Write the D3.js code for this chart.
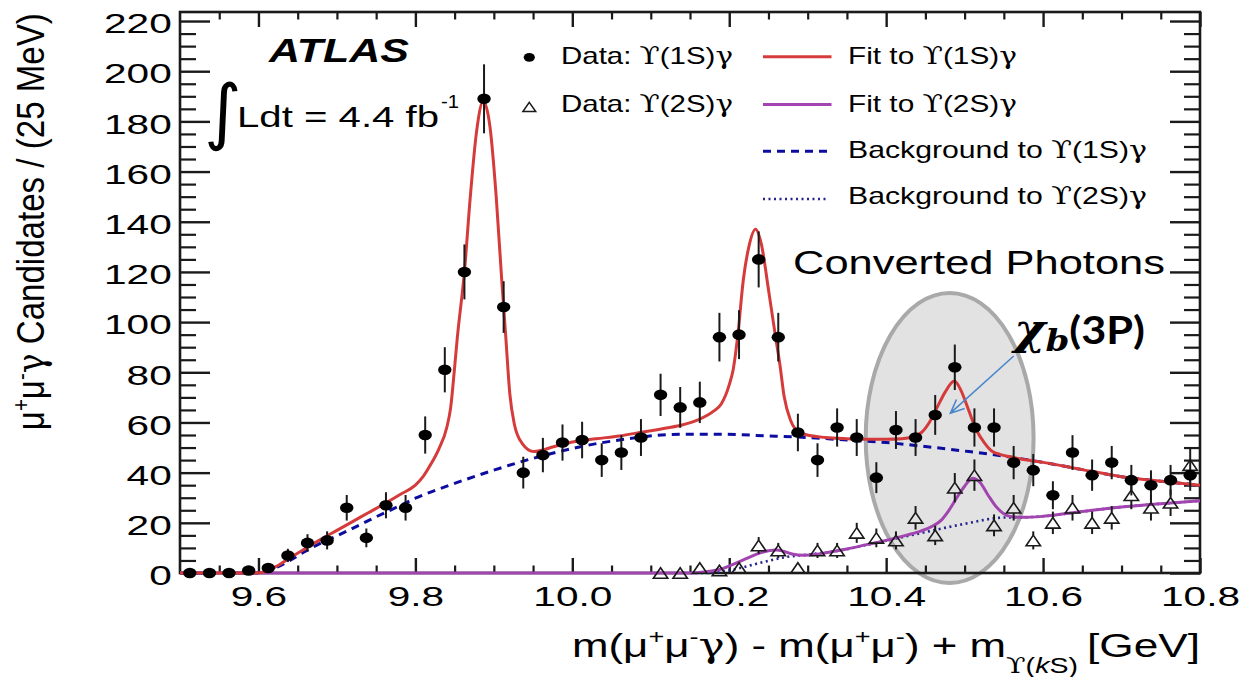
<!DOCTYPE html>
<html><head><meta charset="utf-8">
<script src="https://cdn.jsdelivr.net/npm/d3@7"></script>
<style>
html,body{margin:0;padding:0;background:#fff;}
svg{display:block;}
text{font-family:"Liberation Sans",Arial,Helvetica,sans-serif;fill:#000;}
</style></head><body>
<svg id="chart" width="1243" height="677"></svg>
<script>
// ---------- data ----------
const bins1S = [9.5125,9.5375,9.5625,9.5875,9.6125,9.6375,9.6625,9.6875,9.7125,9.7375,9.7625,9.7875,
  9.8125,9.8375,9.8625,9.8875,9.9125,9.9375,9.9625,9.9875,10.0125,10.0375,10.0625,10.0875,10.1125,10.1375,
  10.1625,10.1875,10.2125,10.2375,10.2625,10.2875,10.3125,10.3375,10.3625,10.3875,10.4125,10.4375,10.4625,
  10.4875,10.5125,10.5375,10.5625,10.5875,10.6125,10.6375,10.6625,10.6875,10.7125,10.7375,10.7625,10.7875];
const counts1S = [0,0,0,1,2,7,12,13,26,14,27,26,
  55,81,120,189,106,40,47,52,53,45,48,54,71,66,
  68,94,95,125,94,56,45,58,54,38,57,54,63,
  82,58,58,44,41,31,48,39,44,37,35,37,39];
const bins2S = [10.1125,10.1375,10.1625,10.1875,10.2125,10.2375,10.2625,10.2875,10.3125,10.3375,10.3625,
  10.3875,10.4125,10.4375,10.4625,10.4875,10.5125,10.5375,10.5625,10.5875,10.6125,10.6375,10.6625,10.6875,
  10.7125,10.7375,10.7625,10.7875];
const counts2S = [0,0,2,1,2,11,9,2,9,9,16,14,13,22,15,34,39,19,26,13,20,26,20,22,31,26,28,43];

const fit1S = [[9.50,0],[9.60,0],[9.605,0.3],[9.615,1.5],[9.625,3],[9.64,6],[9.66,9.8],[9.68,13.5],[9.70,17],
  [9.72,20.5],[9.74,24],[9.76,27.5],[9.78,31.2],[9.80,35],[9.81,38.5],[9.82,43.5],[9.83,49.5],[9.84,58],
  [9.845,66],[9.85,82],[9.8535,94],[9.8625,120],[9.87,150],[9.878,176],[9.8865,188],[9.895,178],[9.903,150],
  [9.91,117],[9.915,95],[9.9205,71],[9.926,59.5],[9.936,51.7],[9.951,48.4],[9.976,50.3],[10.0,52.2],
  [10.03,53.5],[10.06,54.6],[10.09,56.2],[10.12,57.8],[10.14,59],[10.16,61],[10.18,64.5],[10.19,67.5],
  [10.2,75],[10.205,81],[10.211,95],[10.218,117],[10.225,130],[10.2335,137],[10.241,131],[10.25,113],
  [10.2586,95],[10.2646,83],[10.27,70.3],[10.278,61],[10.291,55.7],[10.3225,54],[10.35,53.5],[10.375,53.3],
  [10.40,53.3],[10.42,53.5],[10.435,54.5],[10.445,56],[10.455,60],[10.465,66],[10.475,72],[10.487,76.5],
  [10.495,73],[10.505,65],[10.515,57],[10.525,52],[10.535,48.5],[10.545,47.3],[10.555,46.5],[10.57,45.5],
  [10.60,44.1],[10.65,41.2],[10.70,38.4],[10.75,36.6],[10.80,35]];
const bkg1S = [[9.50,0],[9.60,0],[9.605,0.2],[9.62,1.8],[9.64,5],[9.66,8.7],[9.68,12],[9.70,14.8],[9.72,17.8],
  [9.75,22.4],[9.78,26.8],[9.80,29.8],[9.85,35.7],[9.90,41],[9.95,45.7],[10.0,49.6],[10.035,51.8],[10.06,53],
  [10.09,54.3],[10.14,55.3],[10.19,55.3],[10.245,54.7],[10.30,54],[10.35,53],[10.40,52],[10.45,50.4],
  [10.50,48.6],[10.55,46.6],[10.60,44.1],[10.65,41.2],[10.70,38.4],[10.75,36.6],[10.80,35]];
const fit2S = [[9.50,0],[10.15,0],[10.17,0.5],[10.19,1.6],[10.205,3.4],[10.22,5.5],[10.235,7.5],[10.25,8.9],
  [10.26,9.2],[10.27,8.6],[10.28,7.6],[10.295,7.1],[10.31,7.4],[10.325,8.2],[10.35,9.6],[10.375,11.3],
  [10.40,13],[10.425,15],[10.445,16.8],[10.46,18.8],[10.47,21],[10.48,25],[10.49,30],[10.50,34.6],
  [10.51,37.8],[10.52,36],[10.53,31],[10.54,26.5],[10.55,23.6],[10.56,22.4],[10.575,22.2],[10.60,22.6],
  [10.65,24.5],[10.70,26.3],[10.75,27.6],[10.80,28.8]];
const bkg2S = [[10.15,0],[10.17,0],[10.19,0.6],[10.21,1.7],[10.245,4.5],[10.275,6.5],[10.30,7.3],[10.325,8.3],
  [10.35,9.5],[10.375,11.2],[10.40,12.9],[10.45,16.3],[10.50,19.6],[10.55,22.1],[10.575,22.2],[10.60,22.6],
  [10.65,24.5],[10.70,26.3],[10.75,27.6],[10.80,28.8]];

const xMajorTicks = [9.6,9.8,10.0,10.2,10.4,10.6,10.8];
const xMinorTicks = [9.55,9.65,9.7,9.75,9.85,9.9,9.95,10.05,10.1,10.15,10.25,10.3,10.35,10.45,10.5,10.55,10.65,10.7,10.75];
const yMajorTicks = [0,20,40,60,80,100,120,140,160,180,200,220];
const yMinorTicks = [5,10,15,25,30,35,45,50,55,65,70,75,85,90,95,105,110,115,125,130,135,145,150,155,165,170,175,185,190,195,205,210,215];

// annotation (data units)
const highlight = {cx: 10.4809, cy: 53.8, rx: 0.107, ry: 57.8};
const arrowFrom = [10.5626, 86.5];
const arrowTo = [10.4819, 63.7];

// ---------- drawing ----------
const svg = d3.select("#chart");
const x = d3.scaleLinear().domain([9.5, 10.8]).range([180, 1200]);
const y = d3.scaleLinear().domain([0, 223.6]).range([573, 12]);
const ink = "#1a1a1a";
const SYM = "DejaVu Serif";

svg.append("ellipse")
  .attr("cx", x(highlight.cx)).attr("cy", y(highlight.cy))
  .attr("rx", x(highlight.cx + highlight.rx) - x(highlight.cx))
  .attr("ry", y(highlight.cy) - y(highlight.cy + highlight.ry))
  .attr("fill", "#e2e2e2").attr("stroke", "#a9a9a9").attr("stroke-width", 4);

function styleTicks(g, w) {
  g.select(".domain").remove();
  g.selectAll(".tick line").attr("stroke", ink).attr("stroke-width", w);
}
const yl = svg.append("g").attr("transform", "translate(180,0)")
  .call(d3.axisLeft(y).tickValues(yMajorTicks).tickSize(-30).tickPadding(5.7).tickFormat(d3.format("d")));
styleTicks(yl, 2.4);
yl.selectAll(".tick text").style("font-size", "28px").style("font-family", "Liberation Sans, Arial, sans-serif")
  .attr("fill", "#000").attr("dy", "0.42em").attr("transform", "scale(1.45,1)");
svg.append("g").attr("transform", "translate(180,0)")
  .call(d3.axisLeft(y).tickValues(yMinorTicks).tickSize(-16).tickFormat(""))
  .call(g => styleTicks(g, 2.2));
svg.append("g").attr("transform", "translate(1200,0)")
  .call(d3.axisRight(y).tickValues(yMajorTicks).tickSize(-30).tickFormat(""))
  .call(g => styleTicks(g, 2.4));
svg.append("g").attr("transform", "translate(1200,0)")
  .call(d3.axisRight(y).tickValues(yMinorTicks).tickSize(-16).tickFormat(""))
  .call(g => styleTicks(g, 2.2));

const xb = svg.append("g").attr("transform", "translate(0,573)")
  .call(d3.axisBottom(x).tickValues(xMajorTicks).tickSize(-15).tickPadding(13).tickFormat(d3.format(".1f")));
styleTicks(xb, 2.4);
xb.selectAll(".tick text").style("font-size", "28px").style("font-family", "Liberation Sans, Arial, sans-serif")
  .attr("fill", "#000").attr("transform", "scale(1.45,1)");
svg.append("g").attr("transform", "translate(0,573)")
  .call(d3.axisBottom(x).tickValues(xMinorTicks).tickSize(-7.5).tickFormat(""))
  .call(g => styleTicks(g, 2.2));
svg.append("g").attr("transform", "translate(0,12)")
  .call(d3.axisTop(x).tickValues(xMajorTicks).tickSize(-15).tickFormat(""))
  .call(g => styleTicks(g, 2.4));
svg.append("g").attr("transform", "translate(0,12)")
  .call(d3.axisTop(x).tickValues(xMinorTicks).tickSize(-7.5).tickFormat(""))
  .call(g => styleTicks(g, 2.2));

svg.append("rect").attr("x", x(9.5)).attr("y", y(223.6))
  .attr("width", x(10.8) - x(9.5)).attr("height", y(0) - y(223.6))
  .attr("fill", "none").attr("stroke", ink).attr("stroke-width", 2.6);

const line = d3.line().x(d => x(d[0])).y(d => y(d[1])).curve(d3.curveMonotoneX);
svg.append("path").attr("d", line(bkg1S)).attr("fill", "none").attr("stroke", "#0c0ca0")
  .attr("stroke-width", 3).attr("stroke-dasharray", "8,6");
svg.append("path").attr("d", line(bkg2S)).attr("fill", "none").attr("stroke", "#23238c")
  .attr("stroke-width", 2.6).attr("stroke-dasharray", "2,3.5");
svg.append("path").attr("d", line(fit2S)).attr("fill", "none").attr("stroke", "#a245b0").attr("stroke-width", 3);
svg.append("path").attr("d", line(fit1S)).attr("fill", "none").attr("stroke", "#d63b3b").attr("stroke-width", 3);

const triH = 5.3, triW = 7.2;
const d2 = d3.zip(bins2S, counts2S);
const g2 = svg.append("g");
d2.forEach(([b, c]) => {
  const cx = x(b), cy = y(c), e = Math.sqrt(c);
  if (c > 0) {
    if (y(c + e) < cy - triH) g2.append("line").attr("x1", cx).attr("x2", cx).attr("y1", y(c + e)).attr("y2", cy - triH)
      .attr("stroke", ink).attr("stroke-width", 2);
    if (y(c - e) > cy + triH) g2.append("line").attr("x1", cx).attr("x2", cx).attr("y1", cy + triH).attr("y2", y(c - e))
      .attr("stroke", ink).attr("stroke-width", 2);
  }
  g2.append("path").attr("d", `M${cx},${cy - triH}L${cx + triW},${cy + triH}L${cx - triW},${cy + triH}Z`)
    .attr("fill", "none").attr("stroke", ink).attr("stroke-width", 1.6);
});

const d1 = d3.zip(bins1S, counts1S);
const g1 = svg.append("g");
g1.selectAll("line").data(d1.filter(d => d[1] > 0)).join("line")
  .attr("x1", d => x(d[0])).attr("x2", d => x(d[0]))
  .attr("y1", d => y(d[1] + Math.sqrt(d[1]))).attr("y2", d => y(d[1] - Math.sqrt(d[1])))
  .attr("stroke", ink).attr("stroke-width", 2);
g1.selectAll("ellipse").data(d1).join("ellipse")
  .attr("cx", d => x(d[0])).attr("cy", d => y(d[1])).attr("rx", 6.7).attr("ry", 5.3).attr("fill", "#000");

const ax0 = x(arrowFrom[0]), ay0 = y(arrowFrom[1]), ax1 = x(arrowTo[0]), ay1 = y(arrowTo[1]);
const ang = Math.atan2(ay0 - ay1, ax0 - ax1);
const hl = 15, ha = 0.42;
svg.append("path")
  .attr("d", `M${ax0},${ay0}L${ax1},${ay1}M${ax1 + hl * Math.cos(ang + ha)},${ay1 + hl * Math.sin(ang + ha)}L${ax1},${ay1}L${ax1 + hl * Math.cos(ang - ha)},${ay1 + hl * Math.sin(ang - ha)}`)
  .attr("fill", "none").attr("stroke", "#4a86cc").attr("stroke-width", 1.6);

// ---------- text helpers ----------
function rich(sel, parts, base) {
  parts.forEach(p => {
    const t = sel.append("tspan").text(p.t);
    if (p.sup) t.attr("font-size", base * 0.62).attr("dy", -base * 0.38);
    if (p.back) t.attr("dy", base * 0.38);
    if (p.it) t.attr("font-style", "italic");
    if (p.f) t.style("font-family", p.f);
  });
}
function label(xp, yp, fs, len, parts, extra) {
  const t = svg.append("text").attr("x", xp).attr("y", yp).attr("font-size", fs);
  if (len) t.attr("textLength", len).attr("lengthAdjust", "spacingAndGlyphs");
  if (typeof parts === "string") t.text(parts); else rich(t, parts, fs);
  if (extra) extra(t);
  return t;
}
function ups(pre, state) {
  return [{t: pre}, {t: "ϒ", f: SYM}, {t: "(" + state + ")"}, {t: "γ", f: SYM}];
}

const yt = svg.append("text").attr("transform", "translate(43.5,221.7) scale(1.19,1) rotate(-90)")
  .attr("text-anchor", "middle").attr("font-size", 33).attr("textLength", 417).attr("lengthAdjust", "spacingAndGlyphs");
rich(yt, [{t: "μ"}, {t: "+", sup: true}, {t: "μ", back: true}, {t: "-", sup: true}, {t: "γ", back: true, f: SYM}, {t: " Candidates / (25 MeV)"}], 33);

label(572, 656.5, 33, 434, [{t: "m(μ"}, {t: "+", sup: true}, {t: "μ", back: true}, {t: "-", sup: true},
  {t: "γ", back: true, f: SYM}, {t: ") - m(μ"}, {t: "+", sup: true}, {t: "μ", back: true}, {t: "-", sup: true}, {t: ") + m", back: true}]);
label(1006, 673, 22, 72, [{t: "ϒ", f: SYM}, {t: "("}, {t: "k", it: true}, {t: "S)"}]);
label(1087, 656.5, 33, 113, "[GeV]");

label(269, 61.7, 33, 140, "ATLAS", t => t.attr("font-weight", "bold").attr("font-style", "italic"));
svg.append("text").attr("x", 204).attr("y", 136).attr("font-size", 72)
  .style("font-family", "DejaVu Sans").text("∫");
label(237, 126.7, 30, 202, "Ldt = 4.4 fb");
label(441, 108, 18, 18, "-1");

label(793, 274, 33, 372, "Converted Photons");

const chi = svg.append("text").attr("x", 1014).attr("y", 344).attr("font-size", 42).attr("font-weight", "bold")
  .attr("textLength", 131).attr("lengthAdjust", "spacingAndGlyphs");
chi.append("tspan").text("χ").attr("font-style", "italic").style("font-family", "DejaVu Serif");
chi.append("tspan").text("b").attr("font-style", "italic").attr("font-size", 30).attr("dy", 7).style("font-family", "DejaVu Serif");
chi.append("tspan").text("(3P)").attr("dy", -7).attr("font-size", 38).style("font-family", "Lato, Open Sans, sans-serif");

const legendMarkers = [{y: 57.3, type: "dot", state: "1S", ty: 64},
                       {y: 107, type: "tri", state: "2S", ty: 111.7}];
legendMarkers.forEach(m => {
  if (m.type === "dot") svg.append("ellipse").attr("cx", 529.3).attr("cy", m.y).attr("rx", 5.6).attr("ry", 4.4).attr("fill", "#000");
  else svg.append("path").attr("d", `M529.3,${m.y - 4.6}L${529.3 + 6.4},${m.y + 4.6}L${529.3 - 6.4},${m.y + 4.6}Z`)
    .attr("fill", "none").attr("stroke", ink).attr("stroke-width", 1.5);
  label(561, m.ty, 24, 172, ups("Data: ", m.state));
});
const legendLines = [
  {y: 56.7, color: "#d63b3b", w: 3, dash: null, pre: "Fit to ", state: "1S", ty: 64, len: 169},
  {y: 104.5, color: "#a245b0", w: 3, dash: null, pre: "Fit to ", state: "2S", ty: 111.7, len: 169},
  {y: 151.3, color: "#0c0ca0", w: 3, dash: "8,6", pre: "Background to ", state: "1S", ty: 157.7, len: 299},
  {y: 199, color: "#23238c", w: 2.6, dash: "2,3.5", pre: "Background to ", state: "2S", ty: 204.3, len: 299}];
legendLines.forEach(l => {
  const p = svg.append("line").attr("x1", 763).attr("x2", l.dash ? 827 : 831.5).attr("y1", l.y).attr("y2", l.y)
    .attr("stroke", l.color).attr("stroke-width", l.w);
  if (l.dash) p.attr("stroke-dasharray", l.dash);
  label(848, l.ty, 24, l.len, ups(l.pre, l.state));
});
</script>
</body></html>
